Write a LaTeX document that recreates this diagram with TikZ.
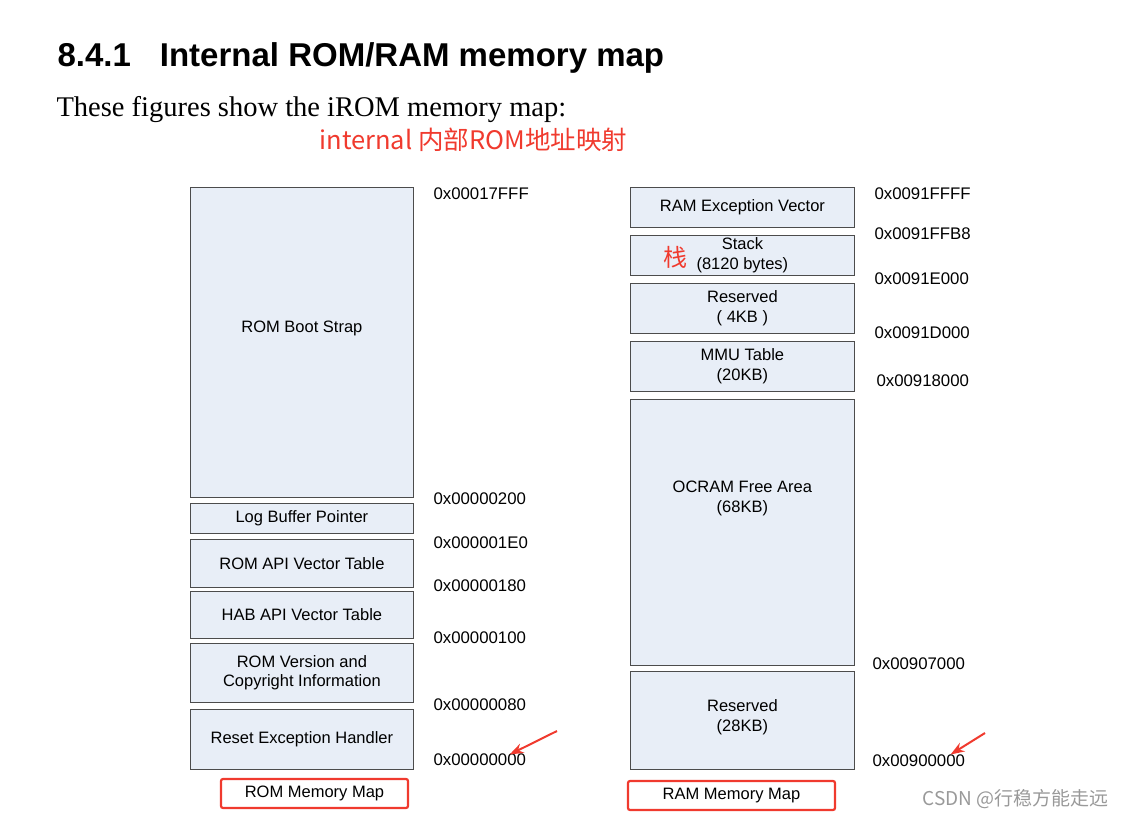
\documentclass[tikz,border=0pt]{standalone}
\usepackage{fontspec}
\setmainfont{Liberation Serif}
\newfontfamily\boxfont{Liberation Sans}
\newfontfamily\cjk{Noto Sans CJK SC}
\usetikzlibrary{positioning, arrows.meta}
\definecolor{memfill}{HTML}{E8EEF7}
\definecolor{memred}{HTML}{F03A2E}
\tikzset{
  mem/.style = {draw=black!70, fill=memfill, line width=0.8pt, align=center, inner sep=1pt,
    font=\boxfont\fontsize{16.5}{19.5}\selectfont},
  addr/.style = {anchor=west, font=\boxfont\fontsize{16.8}{19}\selectfont},
  caption/.style = {draw=memred, line width=2.2pt, rounded corners=2pt,
    font=\boxfont\fontsize{16.5}{19}\selectfont},
  pointer/.style = {memred, line width=2pt, -{Stealth[length=14pt,width=10pt]}}
}
\newcommand{\membox}[6]{% name, x1, y1, x2, y2, text
  \node[mem, minimum width=#4-#2, minimum height=#5-#3, anchor=north west] (#1) at (#2,#3) {#6};}
\begin{document}
\begin{tikzpicture}[x=1pt, y=-1pt]
\useasboundingbox (0,0) rectangle (1127,817);
\node[anchor=west, font=\boxfont\bfseries\fontsize{33}{36}\selectfont] (title) at (54,58) {8.4.1\hspace{29pt}Internal ROM/RAM memory map};
\node[anchor=west, font=\fontsize{28.5}{32}\selectfont] (intro) at (53,110) {These figures show the iROM memory map:};
\node[anchor=west, text=memred, font=\cjk\fontsize{25.5}{28}\selectfont] (note) at (316,140) {internal 内部ROM地址映射};

% ROM map
\membox{boot}{190}{187}{413}{497}{ROM Boot Strap\\[12pt]}
\membox{logbuf}{190}{503}{413}{533}{Log Buffer Pointer}
\membox{romapi}{190}{539}{413}{587}{ROM API Vector Table}
\membox{habapi}{190}{591}{413}{638}{HAB API Vector Table}
\membox{romver}{190}{643}{413}{702}{ROM Version and\\Copyright Information}
\membox{reset}{190}{709}{413}{769}{Reset Exception Handler}
\node[addr] (a0) at (430,194) {0x00017FFF};
\node[addr] (a1) at (430,499) {0x00000200};
\node[addr] (a2) at (430,543) {0x000001E0};
\node[addr] (a3) at (430,586) {0x00000180};
\node[addr] (a4) at (430,638) {0x00000100};
\node[addr] (a5) at (430,705) {0x00000080};
\node[addr] (a6) at (430,760) {0x00000000};
\node[caption, minimum width=187, minimum height=29] (romcap) at (314.5,793.5) {ROM Memory Map};

% RAM map
\membox{ramvec}{630}{187}{854}{227}{RAM Exception Vector}
\membox{stack}{630}{235}{854}{275}{Stack\\(8120 bytes)}
\membox{res4}{630}{283}{854}{333}{Reserved\\( 4KB )}
\membox{mmu}{630}{341}{854}{391}{MMU Table\\(20KB)}
\membox{ocram}{630}{399}{854}{665}{OCRAM Free Area\\(68KB)\\[52pt]}
\membox{res28}{630}{671}{854}{769}{Reserved\\(28KB)\\[-10pt]}
\node[text=memred, font=\cjk\fontsize{24}{26}\selectfont] (zhan) at (675,257) {栈};
\node[addr] (b0) at (871,194) {0x0091FFFF};
\node[addr] (b1) at (871,234) {0x0091FFB8};
\node[addr] (b2) at (871,279) {0x0091E000};
\node[addr] (b3) at (871,333) {0x0091D000};
\node[addr] (b4) at (873,381) {0x00918000};
\node[addr] (b5) at (869,664) {0x00907000};
\node[addr] (b6) at (869,761) {0x00900000};
\node[caption, minimum width=207, minimum height=29] (ramcap) at (731.5,795.5) {RAM Memory Map};

% pointers
\coordinate (p1) at (557,731);
\coordinate (p2) at (985,733);
\draw[pointer] (p1) -- ([xshift=-20pt,yshift=-4pt]a6.north east);
\draw[pointer] (p2) -- ([xshift=-18pt,yshift=-3pt]b6.north east);

\node[anchor=east, text=black!40, font=\cjk\fontsize{19}{22}\selectfont] (mark) at (1112,799) {CSDN @行稳方能走远};
\end{tikzpicture}
\end{document}
